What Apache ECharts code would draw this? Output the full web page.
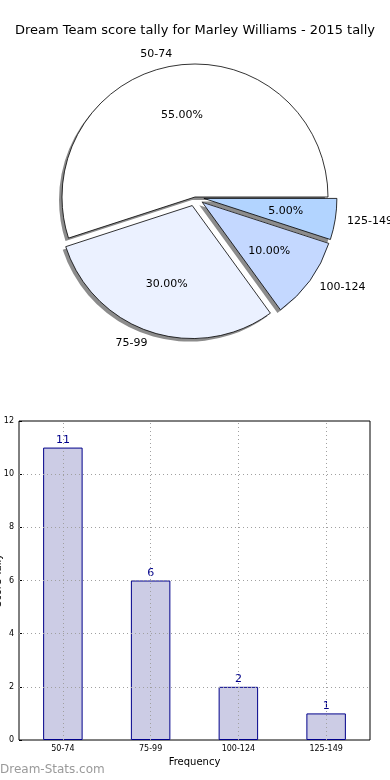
<!DOCTYPE html>
<html><head><meta charset="utf-8">
<script src="https://cdn.jsdelivr.net/npm/echarts@6/dist/echarts.min.js"></script>
<style>html,body{margin:0;padding:0;background:#fff;}#c{width:390px;height:780px;}</style>
</head><body><div id="c"></div>
<script>
const titleText = 'Dream Team score tally for Marley Williams - 2015 tally';
const categories = ['50-74', '75-99', '100-124', '125-149'];
const counts = [11, 6, 2, 1];
const sliceColors = ['#ffffff', '#ebf1ff', '#c4d8ff', '#b2d4ff'];
const exploded = [false, true, true, true];
const yTicks = [0, 2, 4, 6, 8, 10, 12];
const FONT = 'DejaVu Sans';
const total = counts.reduce((a, b) => a + b, 0);

const R = 133;
const CX = 195, CY = 197;
const pieBase = { type: 'pie', radius: [0, R], startAngle: 0, clockwise: false, selectedMode: 'multiple', selectedOffset: 9, emphasis: { disabled: true } };
const mk = (fn) => categories.map((c, i) => Object.assign({ name: c, value: counts[i], selected: exploded[i] }, fn(i)));
const gridLine = { type: [1, 3], color: '#a0a0a0', width: 1 };

const chart = echarts.init(document.getElementById('c'), null, { renderer: 'canvas' });
chart.setOption({
  animation: false,
  title: { text: titleText, left: 'center', top: 19, textStyle: { fontFamily: FONT, fontSize: 13, fontWeight: 'normal', color: '#000' } },
  grid: { left: 19, right: 20, top: 421, bottom: 40, outerBoundsMode: 'none', containLabel: false, show: true, borderColor: '#000', borderWidth: 1, backgroundColor: 'transparent' },
  xAxis: {
    type: 'category', data: categories, name: 'Frequency', nameLocation: 'middle', nameGap: 17,
    nameTextStyle: { fontFamily: FONT, fontSize: 10, color: '#000' },
    axisLine: { show: false }, axisTick: { show: false },
    axisLabel: { fontFamily: FONT, fontSize: 8, color: '#000', margin: 5 },
    splitLine: { show: false }
  },
  yAxis: {
    type: 'value', min: 0, max: 12, interval: 2, name: 'Score Tally', nameLocation: 'middle', nameGap: 16, nameMoveOverlap: false,
    nameTextStyle: { fontFamily: FONT, fontSize: 10, color: '#000' },
    axisLine: { show: false }, axisTick: { show: true, length: 3, inside: true, lineStyle: { color: '#000' } },
    axisLabel: { fontFamily: FONT, fontSize: 8, color: '#000', margin: 5, formatter: v => yTicks.includes(v) ? String(v) : '' },
    splitLine: { show: false }
  },
  series: [
    {
      type: 'bar', data: counts, barWidth: '45%',
      itemStyle: { color: '#ccccE5', borderColor: '#00008b', borderWidth: 1 },
      label: { show: true, position: 'top', distance: 2, fontFamily: FONT, fontSize: 11, color: '#00008b' },
      markLine: {
        silent: true, symbol: 'none', label: { show: false }, lineStyle: gridLine, emphasis: { disabled: true },
        data: yTicks.filter(v => v > 0 && v < 12).map(v => ({ yAxis: v })).concat(categories.map(c => ({ xAxis: c })))
      }
    },
    Object.assign({}, pieBase, {
      center: [CX - 3, CY + 3], silent: true, z: 1,
      data: mk(() => ({ itemStyle: { color: '#8c8c8c' } })),
      itemStyle: { borderWidth: 0 },
      label: { show: false }, labelLine: { show: false }
    }),
    Object.assign({}, pieBase, {
      center: [CX, CY], z: 2,
      data: mk(i => ({ itemStyle: { color: sliceColors[i] } })),
      itemStyle: { borderColor: '#000', borderWidth: 0.8 },
      label: { show: true, position: 'outside', overflow: 'none', fontFamily: FONT, fontSize: 11, color: '#000', distanceToLabelLine: 0 },
      labelLine: { show: false, length: 12, length2: 0 },
      labelLayout: { hideOverlap: false, moveOverlap: false }
    }),
    Object.assign({}, pieBase, {
      center: [CX, CY], radius: [0.2 * R, R], silent: true, z: 3,
      data: mk(() => ({ itemStyle: { color: 'transparent' } })),
      itemStyle: { borderWidth: 0 },
      label: { show: true, position: 'inside', fontFamily: FONT, fontSize: 11, color: '#000',
        formatter: p => (p.value / total * 100).toFixed(2) + '%' },
      labelLine: { show: false }
    })
  ],
  graphic: [{ type: 'text', left: 0, top: 764, style: { text: 'Dream-Stats.com', fontFamily: FONT, fontSize: 12, fontWeight: 'normal', fill: '#9a9a9a' } }]
});
</script></body></html>
